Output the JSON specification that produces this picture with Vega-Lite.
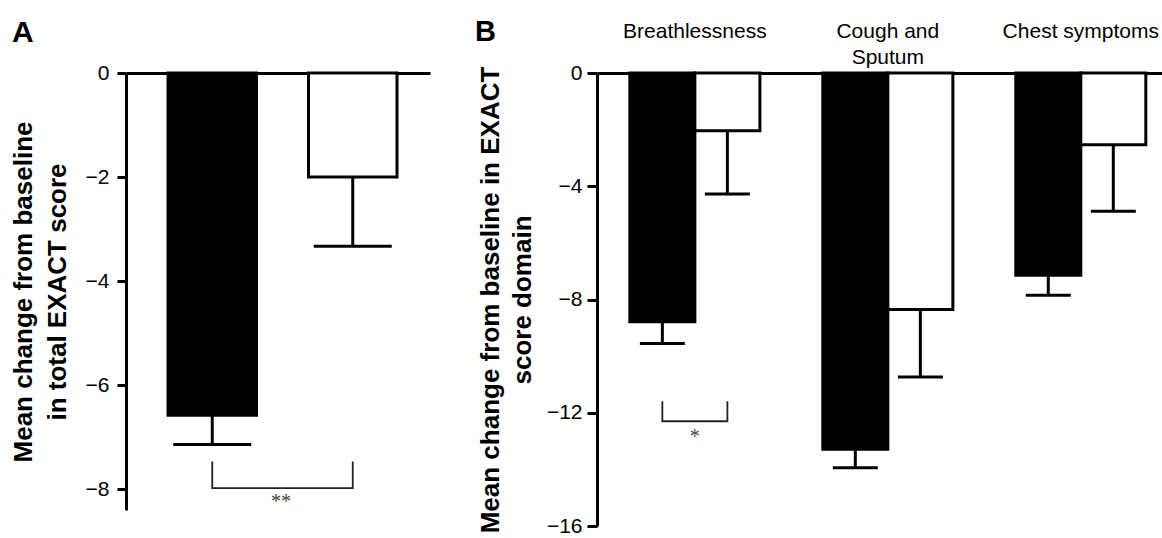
{
  "$schema": "https://vega.github.io/schema/vega-lite/v6.json",
  "autosize": {"type": "none"},
  "padding": {"left": 126, "top": 73, "right": 1036, "bottom": 465},
  "background": "white",
  "bounds": "flush",
  "spacing": 167,
  "resolve": {"scale": {"xOffset": "independent", "x": "independent", "y": "independent", "fill": "independent"}},
  "config": {
    "view": {"stroke": null},
    "font": "Liberation Sans",
    "axis": {"domainColor": "black", "tickColor": "black", "labelColor": "black", "titleColor": "black", "grid": false, "labelFont": "Liberation Sans", "titleFont": "Liberation Sans"}
  },
  "datasets": {
    "A": [
      {"measure": "Total", "group": "Treatment", "value": -6.58, "err": -7.14},
      {"measure": "Total", "group": "Placebo", "value": -2.0, "err": -3.33}
    ],
    "bracketA": [
      {"measure": "Total", "group": "Treatment", "y": -7.47, "o": 1},
      {"measure": "Total", "group": "Treatment", "y": -7.98, "o": 2},
      {"measure": "Total", "group": "Placebo", "y": -7.98, "o": 3},
      {"measure": "Total", "group": "Placebo", "y": -7.47, "o": 4}
    ],
    "starA": [{"measure": "Total", "y": -8.25, "label": "**"}],
    "B": [
      {"domain": "Breathlessness", "group": "Treatment", "value": -8.79, "err": -9.55},
      {"domain": "Breathlessness", "group": "Placebo", "value": -2.04, "err": -4.27},
      {"domain": "Cough and Sputum", "group": "Treatment", "value": -13.29, "err": -13.94},
      {"domain": "Cough and Sputum", "group": "Placebo", "value": -8.35, "err": -10.74},
      {"domain": "Chest symptoms", "group": "Treatment", "value": -7.14, "err": -7.85},
      {"domain": "Chest symptoms", "group": "Placebo", "value": -2.53, "err": -4.88}
    ],
    "bracketB": [
      {"domain": "Breathlessness", "group": "Treatment", "y": -11.59, "o": 1},
      {"domain": "Breathlessness", "group": "Treatment", "y": -12.3, "o": 2},
      {"domain": "Breathlessness", "group": "Placebo", "y": -12.3, "o": 3},
      {"domain": "Breathlessness", "group": "Placebo", "y": -11.59, "o": 4}
    ],
    "starB": [{"domain": "Breathlessness", "y": -12.85, "label": "*"}]
  },
  "hconcat": [
    {
      "width": 304,
      "height": 437,
      "title": {"text": "A", "anchor": "start", "frame": "group", "dx": -114, "offset": 25, "dy": 35, "baseline": "alphabetic", "fontSize": 30, "fontWeight": "bold", "color": "black", "font": "Liberation Sans"},
      "encoding": {
        "x": {"field": "measure", "type": "nominal", "scale": {"paddingInner": 0, "paddingOuter": 0}, "axis": {"orient": "top", "title": null, "labels": false, "ticks": false, "domainWidth": 3}}
      },
      "layer": [
        {
          "data": {"name": "A"},
          "mark": {"type": "bar", "stroke": "black", "strokeWidth": 3},
          "encoding": {
            "xOffset": {"field": "group", "type": "nominal", "sort": ["Treatment", "Placebo"], "scale": {"paddingInner": 0.37, "paddingOuter": 0.267, "align": 0.56}},
            "y": {"field": "value", "type": "quantitative", "scale": {"domain": [-8.4, 0], "nice": false, "zero": false},
              "axis": {"values": [0, -2, -4, -6, -8], "title": ["Mean change from baseline", "in total EXACT score"], "titleFontSize": 26, "titleFontWeight": "bold", "titleLineHeight": 34, "titlePadding": 15, "labelFontSize": 21, "labelPadding": 8, "tickSize": 9, "tickWidth": 3, "domainWidth": 3}},
            "y2": {"datum": 0},
            "fill": {"field": "group", "type": "nominal", "scale": {"domain": ["Treatment", "Placebo"], "range": ["black", "white"]}, "legend": null}
          }
        },
        {
          "data": {"name": "A"},
          "mark": {"type": "rule", "strokeWidth": 3, "color": "black"},
          "encoding": {
            "xOffset": {"field": "group", "type": "nominal", "sort": ["Treatment", "Placebo"], "scale": {"paddingInner": 0.37, "paddingOuter": 0.267, "align": 0.56}},
            "y": {"field": "value", "type": "quantitative", "scale": {"domain": [-8.4, 0], "nice": false, "zero": false}},
            "y2": {"field": "err"}
          }
        },
        {
          "data": {"name": "A"},
          "mark": {"type": "tick", "size": 78, "thickness": 3, "color": "black", "opacity": 1},
          "encoding": {
            "xOffset": {"field": "group", "type": "nominal", "sort": ["Treatment", "Placebo"], "scale": {"paddingInner": 0.37, "paddingOuter": 0.267, "align": 0.56}},
            "y": {"field": "err", "type": "quantitative", "scale": {"domain": [-8.4, 0], "nice": false, "zero": false}}
          }
        },
        {
          "data": {"name": "bracketA"},
          "mark": {"type": "line", "strokeWidth": 1.8, "color": "#222222"},
          "encoding": {
            "xOffset": {"field": "group", "type": "nominal", "sort": ["Treatment", "Placebo"], "scale": {"paddingInner": 0.37, "paddingOuter": 0.267, "align": 0.56}},
            "y": {"field": "y", "type": "quantitative", "scale": {"domain": [-8.4, 0], "nice": false, "zero": false}},
            "order": {"field": "o", "type": "quantitative"}
          }
        },
        {
          "data": {"name": "starA"},
          "mark": {"type": "text", "font": "Liberation Serif", "fontSize": 20, "fill": "#444444", "baseline": "middle", "dx": 3},
          "encoding": {
            "y": {"field": "y", "type": "quantitative", "scale": {"domain": [-8.4, 0], "nice": false, "zero": false}},
            "text": {"field": "label"}
          }
        }
      ]
    },
    {
      "width": 565,
      "height": 453,
      "title": {"text": "B", "anchor": "start", "frame": "group", "dx": -122, "offset": -15, "dy": 35, "baseline": "alphabetic", "fontSize": 29, "fontWeight": "bold", "color": "black", "font": "Liberation Sans"},
      "encoding": {
        "x": {"field": "domain", "type": "nominal", "sort": ["Breathlessness", "Cough and Sputum", "Chest symptoms"], "scale": {"paddingInner": 0.326, "paddingOuter": 0.127, "align": 0.67},
          "axis": {"orient": "top", "title": null, "ticks": false, "tickSize": 0, "domainWidth": 3, "labelAngle": 0, "labelFontSize": 21, "labelBaseline": "top", "labelPadding": 53, "labelLineHeight": 26,
            "labelExpr": "datum.value == 'Cough and Sputum' ? ['Cough and', 'Sputum'] : datum.label"}}
      },
      "layer": [
        {
          "data": {"name": "B"},
          "mark": {"type": "bar", "stroke": "black", "strokeWidth": 3},
          "encoding": {
            "xOffset": {"field": "group", "type": "nominal", "sort": ["Treatment", "Placebo"], "scale": {"paddingInner": 0, "paddingOuter": 0}},
            "y": {"field": "value", "type": "quantitative", "scale": {"domain": [-16, 0], "nice": false, "zero": false},
              "axis": {"values": [0, -4, -8, -12, -16], "title": ["Mean change from baseline in EXACT", "score domain"], "titleFontSize": 26, "titleFontWeight": "bold", "titleLineHeight": 32, "titlePadding": 11, "labelFontSize": 21, "labelPadding": 5, "tickSize": 10, "tickWidth": 3, "domainWidth": 3}},
            "y2": {"datum": 0},
            "fill": {"field": "group", "type": "nominal", "scale": {"domain": ["Treatment", "Placebo"], "range": ["black", "white"]}, "legend": null}
          }
        },
        {
          "data": {"name": "B"},
          "mark": {"type": "rule", "strokeWidth": 3, "color": "black"},
          "encoding": {
            "xOffset": {"field": "group", "type": "nominal", "sort": ["Treatment", "Placebo"], "scale": {"paddingInner": 0, "paddingOuter": 0}},
            "y": {"field": "value", "type": "quantitative", "scale": {"domain": [-16, 0], "nice": false, "zero": false}},
            "y2": {"field": "err"}
          }
        },
        {
          "data": {"name": "B"},
          "mark": {"type": "tick", "size": 45, "thickness": 3, "color": "black", "opacity": 1},
          "encoding": {
            "xOffset": {"field": "group", "type": "nominal", "sort": ["Treatment", "Placebo"], "scale": {"paddingInner": 0, "paddingOuter": 0}},
            "y": {"field": "err", "type": "quantitative", "scale": {"domain": [-16, 0], "nice": false, "zero": false}}
          }
        },
        {
          "data": {"name": "bracketB"},
          "mark": {"type": "line", "strokeWidth": 1.8, "color": "#222222"},
          "encoding": {
            "xOffset": {"field": "group", "type": "nominal", "sort": ["Treatment", "Placebo"], "scale": {"paddingInner": 0, "paddingOuter": 0}},
            "y": {"field": "y", "type": "quantitative", "scale": {"domain": [-16, 0], "nice": false, "zero": false}},
            "order": {"field": "o", "type": "quantitative"}
          }
        },
        {
          "data": {"name": "starB"},
          "mark": {"type": "text", "font": "Liberation Serif", "fontSize": 20, "fill": "#444444", "baseline": "middle"},
          "encoding": {
            "y": {"field": "y", "type": "quantitative", "scale": {"domain": [-16, 0], "nice": false, "zero": false}},
            "text": {"field": "label"}
          }
        }
      ]
    }
  ]
}
